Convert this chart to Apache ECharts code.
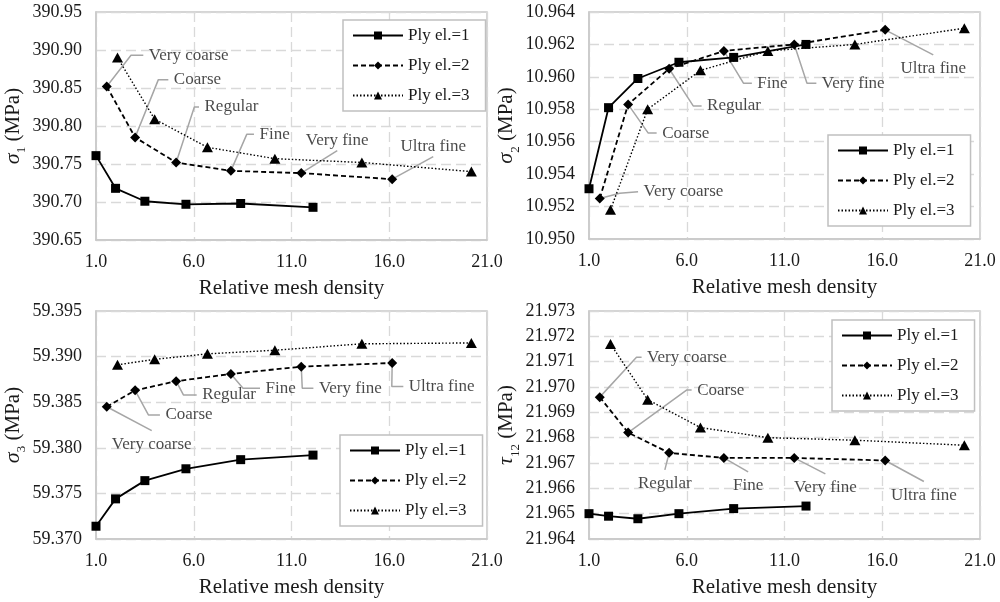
<!DOCTYPE html>
<html>
<head>
<meta charset="utf-8">
<script src="https://cdn.jsdelivr.net/npm/echarts@6/dist/echarts.min.js"></script>
<style>html,body{margin:0;padding:0;background:#fff}#c{width:1000px;height:602px}</style>
</head>
<body>
<div id="c"></div>
<script>
// ---------- DATA ----------
const seriesNames = ['Ply el.=1', 'Ply el.=2', 'Ply el.=3'];
const meshLabels = ['Very coarse', 'Coarse', 'Regular', 'Fine', 'Very fine', 'Ultra fine'];
const xTicks = [1.0, 6.0, 11.0, 16.0, 21.0];

// relative mesh density for each ply-element setting
const density1 = [1.0, 2.0, 3.5, 5.6, 8.4, 12.1];
const density2 = [1.55, 3.0, 5.1, 7.9, 11.5, 16.15];
const density3 = [2.1, 4.0, 6.7, 10.15, 14.6, 20.2];

// sigma_1 (MPa)
const sigma1_ply1 = [390.761, 390.718, 390.701, 390.697, 390.698, 390.693];
const sigma1_ply2 = [390.852, 390.785, 390.752, 390.741, 390.738, 390.730];
const sigma1_ply3 = [390.890, 390.809, 390.772, 390.757, 390.752, 390.740];

// sigma_2 (MPa)
const sigma2_ply1 = [10.9531, 10.9581, 10.9599, 10.9609, 10.9612, 10.9620];
const sigma2_ply2 = [10.9525, 10.9583, 10.9605, 10.9616, 10.9620, 10.9629];
const sigma2_ply3 = [10.9518, 10.9580, 10.9604, 10.9616, 10.9620, 10.9630];

// sigma_3 (MPa)
const sigma3_ply1 = [59.3714, 59.3744, 59.3764, 59.3777, 59.3787, 59.3792];
const sigma3_ply2 = [59.3845, 59.3863, 59.3873, 59.3881, 59.3889, 59.3893];
const sigma3_ply3 = [59.3891, 59.3897, 59.3903, 59.3907, 59.3914, 59.3915];

// tau_12 (MPa)
const tau12_ply1 = [21.9650, 21.9649, 21.9648, 21.9650, 21.9652, 21.9653];
const tau12_ply2 = [21.9696, 21.9682, 21.9674, 21.9672, 21.9672, 21.9671];
const tau12_ply3 = [21.9717, 21.9695, 21.9684, 21.9680, 21.9679, 21.9677];

// y-axis tick settings per panel
const yTicks1 = [390.65, 390.95, 0.05, 2];
const yTicks2 = [10.950, 10.964, 0.002, 3];
const yTicks3 = [59.370, 59.395, 0.005, 3];
const yTicks4 = [21.964, 21.973, 0.001, 3];

// ---------- LAYOUT / STYLE ----------
const FONT = "'Liberation Serif', 'DejaVu Serif', 'Times New Roman', serif";
const TXT = '#1a1a1a';
const panels = [
  { grid: {left: 96, top: 12, width: 391, height: 228}, y: yTicks1, sym: 'σ', sub: '1',
    data: [sigma1_ply1, sigma1_ply2, sigma1_ply3], nameGap: 68,
    legend: {left: 343, top: 20},
    notes: [
      {elbow: [2.79, 390.893], end: [3.42, 390.893], pos: 'right'},
      {elbow: [4.19, 390.861], end: [4.70, 390.861], pos: 'right'},
      {elbow: [6.03, 390.825], end: [6.27, 390.825], pos: 'right'},
      {elbow: [8.71, 390.789], end: [9.08, 390.789], pos: 'right'},
      {end: [13.34, 390.7675], pos: 'top'},
      {end: [18.25, 390.7596], pos: 'top'}
    ]},
  { grid: {left: 589, top: 12, width: 391, height: 227}, y: yTicks2, sym: 'σ', sub: '2',
    data: [sigma2_ply1, sigma2_ply2, sigma2_ply3], nameGap: 64,
    legend: {left: 828, top: 135},
    notes: [
      {elbow: [2.57, 10.95282], end: [3.51, 10.95292], pos: 'right'},
      {elbow: [4.03, 10.95653], end: [4.46, 10.95653], pos: 'right'},
      {elbow: [6.33, 10.95821], end: [6.76, 10.95821], pos: 'right'},
      {elbow: [8.90, 10.95961], end: [9.33, 10.95961], pos: 'right'},
      {elbow: [12.15, 10.95961], end: [12.63, 10.95961], pos: 'right'},
      {end: [18.61, 10.96136], pos: 'bottom'}
    ]},
  { grid: {left: 96, top: 311, width: 391, height: 228}, y: yTicks3, sym: 'σ', sub: '3',
    data: [sigma3_ply1, sigma3_ply2, sigma3_ply3], nameGap: 68,
    legend: {left: 340, top: 435},
    notes: [
      {end: [3.85, 59.38189], pos: 'bottom'},
      {elbow: [3.68, 59.38361], end: [4.27, 59.38361], pos: 'right'},
      {elbow: [5.47, 59.38580], end: [6.15, 59.38580], pos: 'right'},
      {elbow: [8.52, 59.38653], end: [9.39, 59.38653], pos: 'right'},
      {elbow: [11.55, 59.38653], end: [12.12, 59.38653], pos: 'right'},
      {elbow: [16.13, 59.38671], end: [16.72, 59.38671], pos: 'right'}
    ]},
  { grid: {left: 589, top: 311, width: 391, height: 228}, y: yTicks4, sym: 'τ', sub: '12',
    data: [tau12_ply1, tau12_ply2, tau12_ply3], nameGap: 63,
    legend: {left: 832, top: 320},
    notes: [
      {elbow: [3.43, 21.97117], end: [3.69, 21.97117], pos: 'right'},
      {elbow: [5.99, 21.96988], end: [6.25, 21.96988], pos: 'right'},
      {end: [4.88, 21.96673], pos: 'bottom'},
      {end: [9.14, 21.96665], pos: 'bottom'},
      {end: [13.09, 21.96657], pos: 'bottom'},
      {end: [18.13, 21.96627], pos: 'bottom'}
    ]}
];
const densities = [density1, density2, density3];
const styles = [
  {symbol: 'rect', symbolSize: 9, line: {type: 'solid', width: 1.8}},
  {symbol: 'diamond', symbolSize: [10, 10], line: {type: [5, 3], width: 1.8}},
  {symbol: 'triangle', symbolSize: [11, 10], line: {type: [1.5, 2], width: 1.4}}
];

const grids = [], xAxes = [], yAxes = [], series = [], legends = [];
panels.forEach((p, k) => {
  grids.push(Object.assign({show: true, borderColor: '#c8c8c8', borderWidth: 1.5, backgroundColor: '#fff'}, p.grid));
  xAxes.push({
    type: 'value', gridIndex: k, min: xTicks[0], max: xTicks[xTicks.length - 1],
    interval: xTicks[1] - xTicks[0],
    axisLine: {show: true, lineStyle: {color: '#c8c8c8', width: 1.5}},
    axisTick: {show: false},
    splitLine: {show: true, lineStyle: {color: '#d9d9d9', type: [10, 5], width: 1.3}},
    axisLabel: {fontFamily: FONT, fontSize: 18, color: TXT, margin: 13, formatter: v => v.toFixed(1)},
    name: 'Relative mesh density', nameLocation: 'middle', nameGap: 38,
    nameTextStyle: {fontFamily: FONT, fontSize: 21, color: TXT}
  });
  yAxes.push({
    type: 'value', gridIndex: k, min: p.y[0], max: p.y[1], interval: p.y[2],
    axisLine: {show: true, lineStyle: {color: '#c8c8c8', width: 1.5}},
    axisTick: {show: false},
    splitLine: {show: true, lineStyle: {color: '#d9d9d9', type: [10, 5], width: 1.3}},
    axisLabel: {fontFamily: FONT, fontSize: 18, color: TXT, margin: 14, formatter: v => v.toFixed(p.y[3])},
    name: '{s|' + p.sym + '}{b|' + p.sub + '}{t| (MPa)}', nameLocation: 'middle', nameGap: p.nameGap, nameRotate: 90,
    nameTextStyle: {
      fontFamily: FONT, fontSize: 21, color: TXT,
      rich: {
        s: {fontFamily: FONT, fontSize: 22, fontStyle: 'italic', color: TXT, lineHeight: 30, verticalAlign: 'middle'},
        b: {fontFamily: FONT, fontSize: 13, color: TXT, lineHeight: 14, verticalAlign: 'bottom'},
        t: {fontFamily: FONT, fontSize: 21, color: TXT, lineHeight: 30, verticalAlign: 'middle'}
      }
    }
  });
  // annotation leader lines + labels (attached to Ply el.=2 points)
  p.notes.forEach((n, i) => {
    const anchor = [density2[i], p.data[1][i]];
    const pts = n.elbow ? [anchor, n.elbow, n.end] : [anchor, n.end];
    series.push({
      type: 'line', xAxisIndex: k, yAxisIndex: k, data: pts, symbol: 'none', silent: true, z: 1,
      lineStyle: {color: '#a6a6a6', width: 1.5}, animation: false
    });
    series.push({
      type: 'scatter', xAxisIndex: k, yAxisIndex: k, silent: true, z: 1, symbolSize: 1,
      itemStyle: {color: 'rgba(0,0,0,0)'}, animation: false,
      data: [{value: n.end, label: {show: true, position: n.pos, distance: n.pos === 'top' ? 1 : 5,
        formatter: meshLabels[i], fontFamily: FONT, fontSize: 17, color: TXT}}]
    });
  });
  p.data.forEach((vals, s) => {
    series.push({
      name: seriesNames[s], type: 'line', xAxisIndex: k, yAxisIndex: k, z: 3,
      data: vals.map((v, i) => [densities[s][i], v]),
      symbol: styles[s].symbol, symbolSize: styles[s].symbolSize, showSymbol: true,
      itemStyle: {color: '#000'},
      lineStyle: Object.assign({color: '#000'}, styles[s].line),
      animation: false
    });
  });
  legends.push(Object.assign({
    orient: 'vertical', data: seriesNames, itemWidth: 50, itemHeight: 10, itemGap: 13,
    padding: [7, 16, 7, 9], borderColor: '#c0c0c0', borderWidth: 1.5, backgroundColor: '#fff',
    textStyle: {fontFamily: FONT, fontSize: 17, color: TXT}, selectedMode: false, z: 10
  }, p.legend));
});

const chart = echarts.init(document.getElementById('c'), null, {renderer: 'canvas'});
chart.setOption({
  backgroundColor: '#fff', animation: false, textStyle: {fontFamily: FONT},
  grid: grids, xAxis: xAxes, yAxis: yAxes, legend: legends, series: series
});
</script>
</body>
</html>
